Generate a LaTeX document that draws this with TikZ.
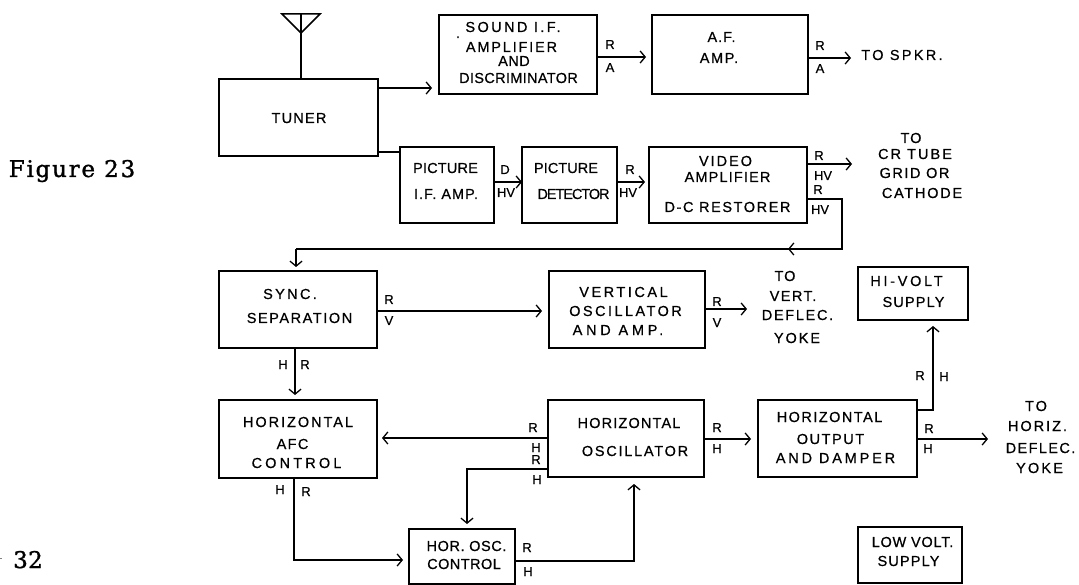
\documentclass[tikz,border=0pt]{standalone}
\usepackage{fontspec}
\setmainfont[FakeBold=0.6]{Liberation Sans}
\newfontfamily\figfont[FakeBold=1.3]{DejaVu Serif}
\usetikzlibrary{arrows.meta}
\ExplSyntaxOn
\NewDocumentCommand\fitw{mmm}{
 \hbox_set:Nn \l_tmpa_box {#3}
 \fp_set:Nn \l_tmpa_fp { round(100*(#1 - \box_wd:N \l_tmpa_box)/(\str_count:n{#3})/#2,1) }
 \addfontfeatures{LetterSpace=\fp_eval:n{\l_tmpa_fp}}#3
}
\ExplSyntaxOff
\tikzset{
 x=1pt,y=-1pt,
 box/.style={draw=black,line width=1.5pt,inner sep=0pt,outer sep=0pt},
 conn/.style={draw=black,line width=1.5pt},
 arr/.style={conn,-{Straight Barb[length=5pt,width=12pt,line width=1.3pt]}},
 lett/.style={inner sep=0pt,outer sep=0pt,text=black,font=\fontsize{14.5}{14.5}\selectfont},
 small/.style={inner sep=0pt,outer sep=0pt,text=black,font=\fontsize{13}{13}\selectfont},
 big/.style={inner sep=0pt,outer sep=0pt,text=black,font=\figfont\fontsize{23}{23}\selectfont},
}
\newcommand\tline[5]{\pgfmathsetmacro\wtmp{#3-#2}\node[lett,anchor=base] (#1) at ({(#2+#3)/2},#4) {\fitw{\wtmp pt}{14.5}{#5}};}
\newcommand\slab[4]{\node[small,anchor=base] (#1) at (#2,#3) {#4};}
\newcommand\bbox[5]{\pgfmathsetmacro\wtmp{#4-#2}\pgfmathsetmacro\htmp{#5-#3}\node[box,minimum width=\wtmp pt,minimum height=\htmp pt] (#1) at ({(#2+#4)/2},{(#3+#5)/2}) {};}
\begin{document}
\begin{tikzpicture}
\useasboundingbox[fill=white] (0,0) rectangle (1079,585);
% boxes
\bbox{tuner}{219}{79}{378}{156}
\bbox{sound}{439}{15}{597}{94}
\bbox{af}{652}{15}{808}{94}
\bbox{pif}{400}{147}{494}{223}
\bbox{det}{522}{147}{617}{223}
\bbox{video}{649}{147}{807}{223}
\bbox{hiv}{858}{267}{968}{320}
\bbox{sync}{219}{271}{377}{348}
\bbox{vert}{549}{271}{705}{348}
\bbox{afc}{219}{400}{377}{478}
\bbox{hosc}{548}{400}{704}{477}
\bbox{hout}{758}{400}{917}{477}
\bbox{ctrl}{409}{529}{515}{584}
\bbox{lowv}{858}{527}{962}{583}
% antenna
\coordinate (antL) at (282,14); \coordinate (antR) at (320,14); \coordinate (antA) at (301,33); \coordinate (antT) at (301,14);
\draw[conn] (antL) -- (antR) -- (antA) -- cycle;
\draw[conn] (antT) -- (antT |- tuner.north);
% connectors
\draw[arr,shorten >=7pt] (tuner.east |- 0,88) -- (sound.west |- 0,88);
\draw[conn] (tuner.east |- 0,152) -- (pif.west |- 0,152);
\draw[arr,shorten >=6pt] (sound.east |- 0,57) -- (af.west |- 0,57);
\coordinate (spkr) at (851,58);
\draw[arr] (af.east |- spkr) -- (spkr);
\draw[arr] (pif.east |- 0,182) -- (det.west |- 0,182);
\draw[arr,shorten >=4pt] (det.east |- 0,182) -- (video.west |- 0,182);
\coordinate (crt) at (852,164);
\draw[arr] (video.east |- crt) -- (crt);
\coordinate (vc) at (842,249); \coordinate (vm) at (788,249); \coordinate (vs) at (296,249);
\draw[conn] (video.east |- 0,199) -| (vc) -- (vs);
\draw[arr] (vc) -- (vm);
\draw[arr,shorten >=4pt] (vs) -- (vs |- sync.north);
\draw[arr,shorten >=7pt] (sync.east |- 0,311) -- (vert.west |- 0,311);
\coordinate (vy) at (747,309);
\draw[arr] (vert.east |- vy) -- (vy);
\draw[arr,shorten >=5pt] (295,348) -- (295,400);
\draw[arr,shorten >=5pt] (hosc.west |- 0,438) -- (afc.east |- 0,438);
\coordinate (oc) at (467,469);
\draw[arr,shorten >=5pt] (hosc.west |- oc) -- (oc) -- (oc |- ctrl.north);
\coordinate (ac) at (294,560);
\draw[arr,shorten >=6pt] (ac |- afc.south) -- (ac) -- (ctrl.west |- ac);
\coordinate (co) at (634,561);
\draw[arr,shorten >=7pt] (ctrl.east |- co) -- (co) -- (co |- hosc.south);
\draw[arr,shorten >=7pt] (hosc.east |- 0,439) -- (hout.west |- 0,439);
\coordinate (hy) at (988,439);
\draw[arr] (hout.east |- hy) -- (hy);
\coordinate (hc) at (933,410);
\draw[arr,shorten >=6pt] (hout.east |- hc) -- (hc) -- (hc |- hiv.south);
% box texts
\tline{t1}{271}{327}{123}{TUNER}
\node[lett,anchor=base] (dot) at (458,38) {.};
\tline{s1}{463}{563}{32}{SOUND I.F.}
\tline{s2}{465}{558}{52}{AMPLIFIER}
\tline{s3}{498}{530}{66}{AND}
\tline{s4}{459}{578}{83}{DISCRIMINATOR}
\tline{a1}{707}{736}{42}{A.F.}
\tline{a2}{699}{739}{63}{AMP.}
\tline{so}{859}{945}{60}{TO SPKR.}
\tline{p1}{413}{478}{173}{PICTURE}
\tline{p2}{413}{479}{199}{I.F. AMP.}
\tline{d1}{534}{598}{173}{PICTURE}
\tline{d2}{538}{609}{199}{DETECTOR}
\tline{v1}{698}{753}{166}{VIDEO}
\tline{v2}{684}{771}{182}{AMPLIFIER}
\tline{v3}{663}{792}{212}{D-C RESTORER}
\tline{c1}{900}{922}{143}{TO}
\tline{c2}{876}{954}{159}{CR TUBE}
\tline{c3}{878}{951}{178}{GRID OR}
\tline{c4}{881}{963}{198}{CATHODE}
\tline{h1}{869}{944}{286}{HI-VOLT}
\tline{h2}{882}{945}{307}{SUPPLY}
\tline{y1}{774}{796}{281}{TO}
\tline{y2}{769}{817}{301}{VERT.}
\tline{y3}{761}{834}{320}{DEFLEC.}
\tline{y4}{773}{821}{343}{YOKE}
\tline{sy1}{262}{318}{299}{SYNC.}
\tline{sy2}{246}{353}{323}{SEPARATION}
\tline{ve1}{578}{669}{297}{VERTICAL}
\tline{ve2}{568}{683}{316}{OSCILLATOR}
\tline{ve3}{569}{667}{335}{AND AMP.}
\tline{f1}{242}{354}{427}{HORIZONTAL}
\tline{f2}{276}{309}{449}{AFC}
\tline{f3}{250}{343}{468}{CONTROL}
\tline{o1}{577}{681}{428}{HORIZONTAL}
\tline{o2}{581}{689}{456}{OSCILLATOR}
\tline{u1}{776}{883}{422}{HORIZONTAL}
\tline{u2}{796}{865}{444}{OUTPUT}
\tline{u3}{773}{898}{463}{AND DAMPER}
\tline{l1}{871}{954}{547}{LOW VOLT.}
\tline{l2}{877}{940}{566}{SUPPLY}
\tline{k1}{426}{507}{551}{HOR. OSC.}
\tline{k2}{427}{501}{569}{CONTROL}
\tline{z1}{1024}{1048}{411}{TO}
\tline{z2}{1007}{1068}{431}{HORIZ.}
\tline{z3}{1005}{1076}{453}{DEFLEC.}
\tline{z4}{1015}{1064}{473}{YOKE}
% signal labels
\slab{l01}{610}{49}{R} \slab{l02}{610}{72}{A}
\slab{l03}{820}{50}{R} \slab{l04}{820}{73}{A}
\slab{l05}{505}{174}{D} \slab{l06}{506}{197}{HV}
\slab{l07}{630}{174}{R} \slab{l08}{628}{197}{HV}
\slab{l09}{819}{160}{R} \slab{l10}{823}{180}{HV}
\slab{l11}{818}{194}{R} \slab{l12}{820}{214}{HV}
\slab{l13}{717}{306}{R} \slab{l14}{717}{327}{V}
\slab{l15}{389}{304}{R} \slab{l16}{389}{325}{V}
\slab{l17}{283}{369}{H} \slab{l18}{305}{369}{R}
\slab{l19}{280}{494}{H} \slab{l20}{306}{496}{R}
\slab{l21}{533}{432}{R} \slab{l22}{536}{452}{H}
\slab{l23}{536}{464}{R} \slab{l24}{537}{484}{H}
\slab{l25}{527}{552}{R} \slab{l26}{528}{576}{H}
\slab{l27}{717}{432}{R} \slab{l28}{717}{453}{H}
\slab{l29}{929}{433}{R} \slab{l30}{928}{453}{H}
\slab{l31}{920}{380}{R} \slab{l32}{944}{381}{H}
% page texts
\node[big,anchor=base] (fig) at (72,177) {\fitw{130pt}{23}{Figure 23}};
\node[big,anchor=base] (pg) at (28,568) {\fitw{30pt}{23}{32}};
\draw[gray,line width=1.2pt] (0,558.5) -- (2,558.5);
\end{tikzpicture}
\end{document}
